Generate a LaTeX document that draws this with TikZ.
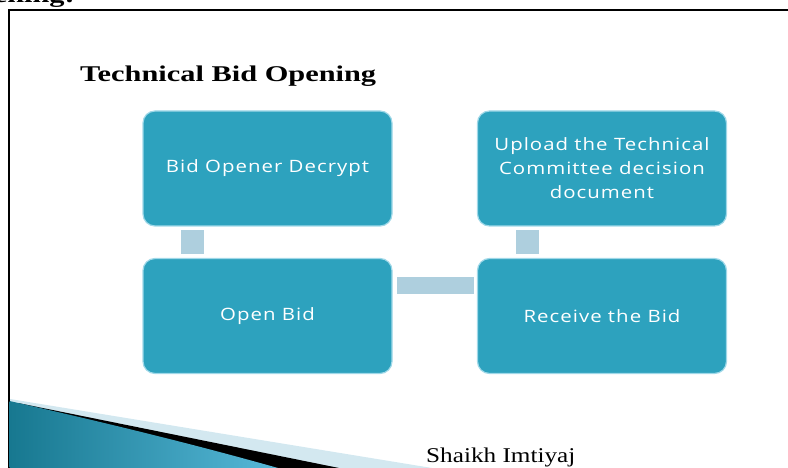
\documentclass[tikz,border=0pt]{standalone}
\usepackage{fontspec}
\setmainfont{Liberation Serif}
\newfontfamily\boxfont[LetterSpace=6, FakeStretch=1.2]{Open Sans}
\newfontfamily\titlefont[FakeStretch=1.35]{Liberation Serif}
\newfontfamily\authorfont[FakeStretch=1.2]{Liberation Serif}
\usetikzlibrary{calc}
\definecolor{boxfill}{HTML}{2DA2BE}
\definecolor{boxline}{HTML}{9FD8E8}
\definecolor{connfill}{HTML}{AECFDE}
\definecolor{tealdark}{HTML}{177890}
\definecolor{teallight}{HTML}{56B8D8}
\definecolor{paleblue}{HTML}{D3E8F0}
\tikzset{
  stepbox/.style={draw=boxline, line width=1.2pt, fill=boxfill, rounded corners=12pt,
    minimum width=249pt, minimum height=115pt, inner sep=0pt, align=center,
    text=white, font=\boxfont\fontsize{17}{24}\selectfont},
  conn/.style={fill=connfill},
}
\begin{document}
\begin{tikzpicture}[x=1pt,y=-1pt]
\useasboundingbox (0,0) rectangle (788,468);
% cut-off heading at top
\begin{scope}
\clip (0,0) rectangle (788,468);
\node[anchor=base east, inner sep=0pt, font=\titlefont\bfseries\fontsize{22.5}{28}\selectfont] (cut) at (75,3) {Opening:};
\end{scope}
% frame
\draw[line width=2pt] (8.5,468) -- (8.5,10.5) -- (788,10.5);
% title
\node[anchor=base west, inner sep=0pt, font=\titlefont\bfseries\fontsize{22.5}{26}\selectfont] (title) at (80,82) {Technical Bid Opening};
% boxes
\node[stepbox] (b1) at (267.5,168.5) {Bid Opener Decrypt};
\node[stepbox] (b2) at (602,168.5) {Upload the Technical\\Committee decision\\document};
\node[stepbox] (b3) at (267.5,316) {Open Bid};
\node[stepbox] (b4) at (602,316) {Receive the Bid};
% connectors
\fill[conn] ([xshift=-86.5pt,yshift=-3pt]b1.south) rectangle ([xshift=-63.5pt,yshift=4pt]b3.north);
\fill[conn] ([xshift=-86pt,yshift=-3pt]b2.south) rectangle ([xshift=-63pt,yshift=4pt]b4.north);
\fill[conn] ([xshift=4pt,yshift=39pt]b3.east) rectangle ([xshift=-3pt,yshift=22pt]b4.west);
% bottom-left decoration
\fill[paleblue] (10,399) -- (432,468) -- (10,468) -- cycle;
\fill[black] (18,403) -- (339,468) -- (10,468) -- cycle;
\shade[left color=tealdark, right color=teallight] (9.5,401) .. controls (120,426) and (200,446) .. (278,468) -- (9.5,468) -- cycle;
% footer
\node[anchor=base west, inner sep=0pt, font=\authorfont\fontsize{21}{24}\selectfont] (author) at (426,462) {Shaikh Imtiyaj};
\end{tikzpicture}
\end{document}
